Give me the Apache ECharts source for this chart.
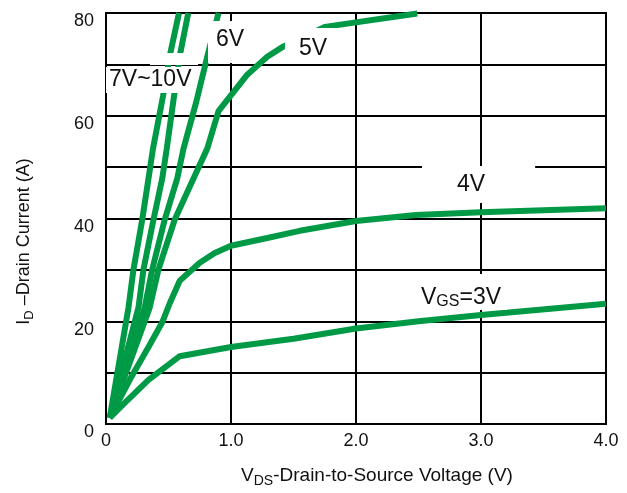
<!DOCTYPE html>
<html>
<head>
<meta charset="utf-8">
<script src="https://cdn.jsdelivr.net/npm/echarts@6/dist/echarts.min.js"></script>
<style>
  html, body { margin: 0; padding: 0; background: #fff; }
  #chart { width: 627px; height: 493px; }
</style>
</head>
<body>
<div id="chart"></div>
<script>
  // output curves, [Vds (V), Id (A)]
  const vgs10 = [[0.03, 1.2], [0.18, 22.7], [0.22, 30.1], [0.29, 39.8], [0.34, 47.8], [0.376, 53.6], [0.456, 63.8], [0.512, 71.9], [0.584, 80]]
  const vgs7 = [[0.03, 1.2], [0.26, 22.7], [0.30, 30.1], [0.38, 39.8], [0.45, 47.8], [0.486, 53.6], [0.544, 63.8], [0.592, 71.9], [0.658, 80]]
  const vgs6 = [[0.03, 1.2], [0.31, 22.7], [0.37, 30.1], [0.47, 39.8], [0.57, 47.8], [0.62, 53.6], [0.72, 62.5], [0.81, 71.5], [0.9, 80]]
  const vgs5 = [[0.03, 1.2], [0.35, 22.7], [0.42, 30.1], [0.55, 39.8], [0.70, 47.8], [0.81, 53.6], [0.90, 60.9], [1.13, 68.0], [1.29, 71.5], [1.42, 73.5], [1.75, 77.3], [2.49, 79.9]]
  const vgs4 = [[0.03, 1.2], [0.19, 8.6], [0.34, 15.0], [0.45, 19.8], [0.51, 23.5], [0.59, 27.9], [0.75, 31.4], [0.87, 33.3], [1.0, 34.7], [1.29, 36.2], [1.55, 37.6], [2.0, 39.5], [2.48, 40.7], [3.0, 41.2], [4.0, 42.0]]
  const vgs3 = [[0.03, 1.2], [0.15, 4.1], [0.34, 8.6], [0.59, 13.2], [1.0, 15.0], [1.5, 16.6], [2.0, 18.6], [2.5, 20.0], [3.0, 21.2], [4.0, 23.4]]

  const curves = [vgs10, vgs7, vgs6, vgs5, vgs4, vgs3]
  const curveNames = ['10V', '7V', '6V', '5V', '4V', '3V']

  const FONT = 'Liberation Sans, Arial, sans-serif'
  const GREEN = '#009a46'

  const chart = echarts.init(document.getElementById('chart'))

  // white label boxes sit on top of lines and grid, like in the original figure
  const boxText = (left, top, text, padding) => ({
    type: 'text',
    z: 100,
    left: left,
    top: top,
    style: {
      text: text,
      fill: '#111',
      font: '23px ' + FONT,
      lineHeight: 26,
      backgroundColor: '#fff',
      padding: padding
    }
  })

  chart.setOption({
    animation: false,
    grid: {
      left: 106,
      right: 21,
      top: 13,
      bottom: 65,
      show: true,
      borderColor: '#000',
      borderWidth: 2
    },
    xAxis: {
      type: 'value',
      min: 0,
      max: 4,
      interval: 1,
      name: '{m|V}{s|DS}{m|-Drain-to-Source Voltage (V)}',
      nameLocation: 'middle',
      nameGap: 42,
      nameTextStyle: {
        padding: [0, 0, 0, 42],
        rich: {
          m: { fontSize: 19, fontFamily: FONT, color: '#111' },
          s: { fontSize: 14, fontFamily: FONT, color: '#111', verticalAlign: 'bottom', padding: [0, 0, -3, 0] }
        }
      },
      axisLine: { show: true, lineStyle: { color: '#000', width: 2 } },
      axisTick: { show: false },
      axisLabel: {
        margin: 8,
        fontSize: 18,
        fontFamily: FONT,
        color: '#111',
        formatter: (v) => (v === 0 ? '0' : v.toFixed(1))
      },
      splitLine: { show: true, lineStyle: { color: '#000', width: 2 } }
    },
    yAxis: {
      type: 'value',
      min: 0,
      max: 80,
      interval: 10,
      name: '{m|I}{s|D}{m| –Drain Current (A)}',
      nameLocation: 'middle',
      nameGap: 73,
      nameTextStyle: {
        padding: [0, 46, 0, 0],
        rich: {
          m: { fontSize: 18, fontFamily: FONT, color: '#111' },
          s: { fontSize: 13, fontFamily: FONT, color: '#111', verticalAlign: 'bottom', padding: [0, 0, -3, 0] }
        }
      },
      axisLine: { show: true, lineStyle: { color: '#000', width: 2 } },
      axisTick: { show: false },
      axisLabel: {
        margin: 12,
        fontSize: 18,
        fontFamily: FONT,
        color: '#111',
        verticalAlign: 'top',
        lineHeight: 17,
        formatter: (v) => (v % 20 === 0 ? String(v) : '')
      },
      splitLine: { show: true, lineStyle: { color: '#000', width: 2 } }
    },
    series: curves.map((d, i) => ({
      name: curveNames[i],
      type: 'line',
      data: d,
      symbol: 'none',
      smooth: false,
      clip: true,
      lineStyle: { color: GREEN, width: 6 }
    })),
    graphic: [
      // cut the 7V~10V lines just above the 70 A grid line
      { type: 'rect', z: 100, left: 150, top: 53, shape: { width: 48, height: 12 }, style: { fill: '#fff' } },
      boxText(106, 67, '7V~10V', [0, 3, 0, 3]),
      boxText(208, 21, '6V', [6, 8, 10, 8]),
      boxText(285, 28, '5V', [8, 12, 2, 14]),
      boxText(422, 166, '4V', [6, 50, 5, 35]),
      {
        type: 'text',
        z: 100,
        left: 415,
        top: 274,
        style: {
          text: '{v|V}{s|GS}{v|=3V}',
          backgroundColor: '#fff',
          padding: [12, 6, 0, 6],
          rich: {
            v: { fontSize: 23, fontFamily: FONT, fill: '#111', lineHeight: 24 },
            s: { fontSize: 16, fontFamily: FONT, fill: '#111', verticalAlign: 'bottom' }
          }
        }
      }
    ]
  })
</script>
</body>
</html>
